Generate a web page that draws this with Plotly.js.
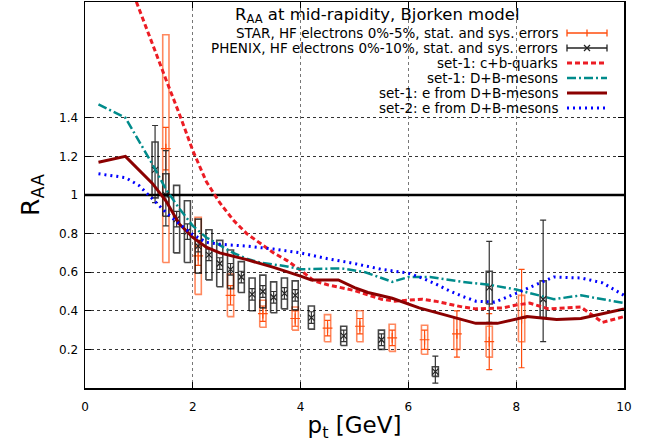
<!DOCTYPE html>
<html>
<head>
<meta charset="utf-8">
<script src="https://cdn.plot.ly/plotly-3.0.1.min.js"></script>
<style>html,body{margin:0;padding:0;background:#fff;}#chart{width:654px;height:443px;}</style>
</head>
<body>
<div id="chart"></div>
<script>
// ---- STAR, HF electrons 0%-5% ----
const starX    = [1.5, 2.1, 2.7, 3.3, 3.9, 4.5, 5.1, 5.7, 6.3, 6.9, 7.5, 8.1];
const starY    = [1.24, 0.685, 0.48, 0.385, 0.36, 0.31, 0.32, 0.26, 0.25, 0.28, 0.24, 0.36];
const starStat = [0.11, 0.05, 0.05, 0.04, 0.04, 0.04, 0.04, 0.04, 0.05, 0.12, 0.145, 0.255];
const starSys  = [0.59, 0.20, 0.11, 0.07, 0.06, 0.07, 0.08, 0.07, 0.075, 0.08, 0.08, 0.12];

// ---- PHENIX, HF electrons 0%-10% ----
const phxX        = [1.3, 1.5, 1.7, 1.9, 2.1, 2.3, 2.5, 2.7, 2.9, 3.1, 3.3, 3.5, 3.7, 3.9, 4.2, 4.8, 5.5, 6.5, 7.5, 8.5];
const phxY        = [1.13, 1.0, 0.875, 0.81, 0.735, 0.69, 0.645, 0.615, 0.575, 0.485, 0.50, 0.47, 0.49, 0.48, 0.365, 0.27, 0.25, 0.085, 0.52, 0.46];
const phxStatUp   = [0.23, 0.23, 0.04, 0.04, 0.03, 0.03, 0.03, 0.03, 0.03, 0.03, 0.03, 0.03, 0.03, 0.03, 0.03, 0.03, 0.03, 0.08, 0.24, 0.41];
const phxStatDown = [0.17, 0.16, 0.04, 0.04, 0.03, 0.03, 0.03, 0.03, 0.03, 0.03, 0.03, 0.03, 0.03, 0.03, 0.03, 0.03, 0.03, 0.06, 0.18, 0.22];
const phxSys      = [0.145, 0.11, 0.175, 0.16, 0.14, 0.13, 0.12, 0.10, 0.08, 0.085, 0.085, 0.08, 0.08, 0.075, 0.06, 0.05, 0.05, 0.025, 0.085, 0.095];

// ---- set-1: c+b-quarks ----
const cbX = [0.9, 1.25, 1.5, 1.75, 2.0, 2.25, 2.5, 2.75, 3.0, 3.25, 3.5, 3.75, 4.0, 4.25, 4.5, 5.0, 5.5, 5.75, 6.0, 6.25, 6.5, 7.0, 7.25, 7.75, 8.0, 8.25, 8.6, 9.2, 9.6, 10];
const cbY = [2.04, 1.78, 1.60, 1.42, 1.23, 1.07, 0.96, 0.87, 0.80, 0.75, 0.70, 0.66, 0.61, 0.555, 0.535, 0.505, 0.46, 0.45, 0.455, 0.46, 0.45, 0.42, 0.41, 0.415, 0.43, 0.44, 0.41, 0.42, 0.34, 0.37];

// ---- set-1: D+B-mesons ----
const dbX = [0.25, 0.75, 1.25, 1.5, 1.75, 2.0, 2.25, 2.5, 2.75, 3.0, 3.25, 3.5, 3.75, 4.0, 4.75, 5.2, 5.5, 5.7, 6.0, 6.4, 7.0, 7.5, 8.0, 8.4, 8.7, 9.2, 9.5, 10];
const dbY = [1.47, 1.40, 1.16, 1.03, 0.93, 0.84, 0.78, 0.74, 0.70, 0.67, 0.65, 0.64, 0.63, 0.615, 0.62, 0.60, 0.57, 0.55, 0.575, 0.575, 0.55, 0.535, 0.51, 0.48, 0.46, 0.48, 0.465, 0.44];

// ---- set-1: e from D+B-mesons ----
const edbX = [0.25, 0.75, 1.25, 1.5, 1.75, 2.0, 2.25, 2.5, 3.0, 3.5, 4.0, 4.2, 4.7, 5.0, 5.25, 5.7, 6.2, 6.8, 7.25, 7.65, 8.2, 8.75, 9.2, 10];
const edbY = [1.17, 1.20, 1.06, 0.97, 0.85, 0.78, 0.73, 0.70, 0.665, 0.625, 0.58, 0.56, 0.56, 0.52, 0.495, 0.465, 0.415, 0.37, 0.335, 0.335, 0.37, 0.355, 0.36, 0.41];

// ---- set-2: e from D+B-mesons ----
const s2X = [0.25, 0.75, 1.0, 1.25, 1.5, 1.75, 2.0, 2.25, 2.5, 3.0, 3.5, 4.0, 4.5, 5.0, 5.5, 6.0, 6.25, 6.5, 6.75, 7.0, 7.25, 7.6, 8.0, 8.4, 8.7, 9.2, 9.6, 10];
const s2Y = [1.11, 1.09, 1.05, 0.98, 0.91, 0.85, 0.795, 0.755, 0.745, 0.735, 0.72, 0.70, 0.67, 0.645, 0.615, 0.595, 0.57, 0.54, 0.505, 0.475, 0.45, 0.445, 0.49, 0.54, 0.575, 0.57, 0.545, 0.48];

// ---- reference line R_AA = 1 ----
const refX = [0, 10];
const refY = [1, 1];

// ---- tick labels ----
const xTicks = [0, 2, 4, 6, 8, 10];
const yTicks = [0.2, 0.4, 0.6, 0.8, 1, 1.2, 1.4];
const yTickText = ['0.2', '0.4', '0.6', '0.8', '1', '1.2', '1.4'];

const legendLabels = [
  'STAR, HF electrons 0%-5%, stat. and sys. errors',
  'PHENIX, HF electrons 0%-10%, stat. and sys. errors',
  'set-1: c+b-quarks',
  'set-1: D+B-mesons',
  'set-1: e from D+B-mesons',
  'set-2: e from D+B-mesons'
];
const keyTitle = 'R<sub>AA</sub> at mid-rapidity, Bjorken model';

const STAR_C = '#ff4d0d';
const STAR_BOX = 'rgba(255,85,25,0.7)';
const PHX_C = '#222222';
const PHX_BOX = 'rgba(0,0,0,0.72)';
const RED_C = '#ec1c24';
const TEAL_C = '#008b8b';
const DRED_C = '#8b0000';
const BLUE_C = '#0000ff';

function boxPath(xs, ys, sys, hw) {
  const bx = [], by = [];
  xs.forEach((x, i) => {
    const lo = ys[i] - sys[i], hi = ys[i] + sys[i];
    bx.push(x - hw, x + hw, x + hw, x - hw, x - hw, null);
    by.push(lo, lo, hi, hi, lo, null);
  });
  return {x: bx, y: by};
}

const starBox = boxPath(starX, starY, starSys, 0.058);
const phxBox = boxPath(phxX, phxY, phxSys, 0.056);

const traces = [
  {x: starBox.x, y: starBox.y, type: 'scatter', mode: 'lines', line: {color: STAR_BOX, width: 1.6}, hoverinfo: 'skip', showlegend: false},
  {x: starX, y: starY, type: 'scatter', mode: 'markers',
   marker: {symbol: 'cross-thin-open', size: 7, color: STAR_C, line: {color: STAR_C, width: 1.2}},
   error_y: {type: 'data', array: starStat, visible: true, color: STAR_C, thickness: 1.2, width: 3}, showlegend: false},
  {x: phxBox.x, y: phxBox.y, type: 'scatter', mode: 'lines', line: {color: PHX_BOX, width: 1.6}, hoverinfo: 'skip', showlegend: false},
  {x: phxX, y: phxY, type: 'scatter', mode: 'markers',
   marker: {symbol: 'x-thin-open', size: 6, color: PHX_C, line: {color: PHX_C, width: 1.2}},
   error_y: {type: 'data', symmetric: false, array: phxStatUp, arrayminus: phxStatDown, visible: true, color: '#333', thickness: 1.2, width: 3}, showlegend: false},
  {x: refX, y: refY, type: 'scatter', mode: 'lines', line: {color: '#000', width: 2.5}, showlegend: false},
  {x: cbX, y: cbY, type: 'scatter', mode: 'lines', name: legendLabels[2], line: {color: RED_C, width: 3, dash: '5px,3px'}, showlegend: false},
  {x: dbX, y: dbY, type: 'scatter', mode: 'lines', name: legendLabels[3], line: {color: TEAL_C, width: 2.5, dash: '9px,3px,2px,3px'}, showlegend: false},
  {x: edbX, y: edbY, type: 'scatter', mode: 'lines', name: legendLabels[4], line: {color: DRED_C, width: 3}, showlegend: false},
  {x: s2X, y: s2Y, type: 'scatter', mode: 'lines', name: legendLabels[5], line: {color: BLUE_C, width: 3, dash: '2px,4px'}, showlegend: false}
];

// ---- key (gnuplot-style, samples on the right) ----
const L = 85, R = 624, T = 2, B = 388;
const px = v => (v - L) / (R - L);
const py = v => (B - v) / (B - T);

const FONT = 'DejaVu Sans, Verdana, sans-serif';
const rowY = [33, 48, 63, 78, 93, 108];
const textRight = 559, sx0 = 567, sx1 = 607, smid = 587;

const annotations = [{
  xref: 'paper', yref: 'paper', x: px(377), y: py(15.5), xanchor: 'center', yanchor: 'middle',
  text: keyTitle, showarrow: false, borderpad: 0, font: {family: FONT, size: 16.5, color: '#000'}
}];
legendLabels.forEach((t, i) => {
  annotations.push({xref: 'paper', yref: 'paper', x: px(textRight), y: py(rowY[i]), xanchor: 'right', yanchor: 'middle',
    text: t, showarrow: false, borderpad: 0, font: {family: FONT, size: 13.5, color: '#000'}});
});

const shapes = [
  {type: 'rect', xref: 'paper', yref: 'paper', x0: px(186), x1: px(623), y0: py(114), y1: py(3), fillcolor: '#fff', line: {width: 0}, layer: 'between'}
];
function seg(x0, y0, x1, y1, color, width, dash) {
  shapes.push({type: 'line', xref: 'paper', yref: 'paper', x0: px(x0), y0: py(y0), x1: px(x1), y1: py(y1),
    line: {color: color, width: width, dash: dash || 'solid'}, layer: 'above'});
}
// STAR sample
seg(sx0, rowY[0], sx1, rowY[0], STAR_C, 1.3);
seg(sx0, rowY[0] - 3.5, sx0, rowY[0] + 3.5, STAR_C, 1.3);
seg(sx1, rowY[0] - 3.5, sx1, rowY[0] + 3.5, STAR_C, 1.3);
seg(smid, rowY[0] - 3.5, smid, rowY[0] + 3.5, STAR_C, 1.3);
// PHENIX sample
seg(sx0, rowY[1], sx1, rowY[1], PHX_C, 1.3);
seg(sx0, rowY[1] - 3.5, sx0, rowY[1] + 3.5, PHX_C, 1.3);
seg(sx1, rowY[1] - 3.5, sx1, rowY[1] + 3.5, PHX_C, 1.3);
seg(smid - 3, rowY[1] - 3, smid + 3, rowY[1] + 3, PHX_C, 1.3);
seg(smid - 3, rowY[1] + 3, smid + 3, rowY[1] - 3, PHX_C, 1.3);
// curve samples
seg(sx0, rowY[2], sx1, rowY[2], RED_C, 3, '5px,3px');
seg(sx0, rowY[3], sx1, rowY[3], TEAL_C, 2.5, '9px,3px,2px,3px');
seg(sx0, rowY[4], sx1, rowY[4], DRED_C, 3);
seg(sx0, rowY[5], sx1, rowY[5], BLUE_C, 3, '2px,4px');

const layout = {
  width: 654, height: 443,
  margin: {l: L, r: 654 - R, t: T, b: 443 - B},
  paper_bgcolor: '#fff', plot_bgcolor: '#fff',
  showlegend: false,
  font: {family: FONT, size: 12, color: '#000'},
  xaxis: {
    range: [0, 10], tickvals: xTicks, ticktext: xTicks.map(String),
    ticks: 'inside', ticklen: 6, tickwidth: 1, tickcolor: '#000',
    showline: true, linecolor: '#000', linewidth: 1.5, mirror: 'ticks',
    showgrid: true, gridcolor: '#777', griddash: 'dot', gridwidth: 1, zeroline: false,
    tickfont: {family: FONT, size: 12}, ticklabelstandoff: 7,
    title: {text: 'p<sub>t</sub> [GeV]', font: {family: FONT, size: 23}, standoff: 4}
  },
  yaxis: {
    range: [0, 2], tickvals: yTicks, ticktext: yTickText,
    ticks: 'inside', ticklen: 6, tickwidth: 1, tickcolor: '#000',
    showline: true, linecolor: '#000', linewidth: 1.5, mirror: 'ticks',
    showgrid: true, gridcolor: '#333', griddash: 'dot', gridwidth: 1, zeroline: false,
    tickfont: {family: FONT, size: 12}, ticklabelstandoff: 3,
    title: {text: 'R<sub>AA</sub>', font: {family: FONT, size: 25}, standoff: 12}
  },
  annotations: annotations,
  shapes: shapes
};

Plotly.newPlot('chart', traces, layout, {displayModeBar: false, staticPlot: true});
</script>
</body>
</html>
